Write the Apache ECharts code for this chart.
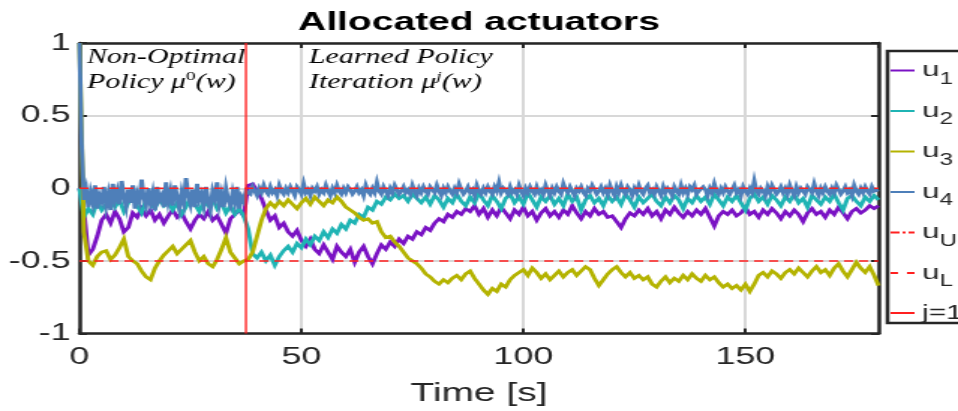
<!DOCTYPE html>
<html>
<head>
<meta charset="utf-8">
<title>Allocated actuators</title>
<script src="https://cdn.jsdelivr.net/npm/echarts@6.0.0/dist/echarts.min.js"></script>
<style>
  html, body { margin: 0; padding: 0; background: #fff; overflow: hidden; }
  #frame { width: 958px; height: 411px; overflow: hidden; }
  /* the figure is laid out narrow and stretched horizontally */
  #chart { width: 639px; height: 411px; transform: scaleX(1.4992); transform-origin: 0 0; }
</style>
</head>
<body>
<div id="frame"><div id="chart"></div></div>
<script>
// Sampling steps of the logged actuator commands [s]
const STEP = 1;
const STEP_U4 = 0.5;
const T_END = 180;
const SWITCH_TIME = 37.5;   // first policy update j = 1
const U_UPPER = 0;
const U_LOWER = -0.5;

const xTicks = [0, 50, 100, 150];
const yTicks = [-1, -0.5, 0, 0.5, 1];
const legendNames = ['u1', 'u2', 'u3', 'u4', 'uU', 'uL', 'j=1'];

// u1 (t = 0 ... 180 s, 1 s step)
const u1Values = [
  0.00,-0.15,-0.46,-0.42,-0.33,-0.22,-0.18,-0.24,-0.16,-0.21,
  -0.30,-0.27,-0.17,-0.20,-0.14,-0.19,-0.15,-0.22,-0.18,-0.24,
  -0.19,-0.15,-0.20,-0.17,-0.23,-0.28,-0.22,-0.18,-0.21,-0.16,
  -0.22,-0.19,-0.25,-0.31,-0.21,-0.18,-0.15,-0.19,0.02,0.03,
  -0.02,-0.07,-0.15,-0.22,-0.19,-0.27,-0.24,-0.30,-0.33,-0.29,
  -0.36,-0.40,-0.35,-0.42,-0.45,-0.39,-0.44,-0.49,-0.40,-0.44,
  -0.47,-0.42,-0.51,-0.44,-0.40,-0.47,-0.52,-0.45,-0.39,-0.42,
  -0.37,-0.40,-0.35,-0.38,-0.33,-0.35,-0.30,-0.32,-0.27,-0.29,
  -0.24,-0.21,-0.23,-0.18,-0.20,-0.16,-0.18,-0.14,-0.16,-0.12,
  -0.18,-0.14,-0.20,-0.15,-0.19,-0.13,-0.17,-0.21,-0.15,-0.18,
  -0.13,-0.19,-0.16,-0.22,-0.17,-0.14,-0.19,-0.16,-0.20,-0.15,
  -0.18,-0.12,-0.17,-0.21,-0.16,-0.19,-0.14,-0.18,-0.16,-0.20,
  -0.19,-0.23,-0.27,-0.21,-0.17,-0.19,-0.15,-0.18,-0.14,-0.19,
  -0.16,-0.21,-0.15,-0.18,-0.13,-0.17,-0.20,-0.16,-0.19,-0.15,
  -0.18,-0.14,-0.20,-0.26,-0.19,-0.16,-0.18,-0.15,-0.19,-0.17,
  -0.13,-0.18,-0.16,-0.20,-0.15,-0.18,-0.14,-0.17,-0.21,-0.16,
  -0.19,-0.15,-0.18,-0.23,-0.17,-0.14,-0.18,-0.16,-0.20,-0.15,
  -0.18,-0.13,-0.17,-0.21,-0.16,-0.14,-0.17,-0.15,-0.12,-0.14,
  -0.12
];

// u2 (1 s step)
const u2Values = [
  0.00,-0.20,-0.14,-0.18,-0.09,-0.15,-0.11,-0.06,-0.13,-0.08,
  -0.16,-0.10,-0.05,-0.12,-0.17,-0.08,-0.11,-0.14,-0.07,-0.12,
  -0.09,-0.15,-0.10,-0.18,-0.13,-0.06,-0.11,-0.16,-0.09,-0.12,
  -0.07,-0.14,-0.10,-0.17,-0.12,-0.18,-0.14,-0.19,-0.28,-0.45,
  -0.48,-0.44,-0.50,-0.46,-0.53,-0.47,-0.43,-0.40,-0.44,-0.38,
  -0.41,-0.35,-0.39,-0.33,-0.36,-0.30,-0.34,-0.28,-0.31,-0.25,
  -0.28,-0.22,-0.24,-0.18,-0.20,-0.13,-0.15,-0.09,-0.11,-0.06,
  -0.08,-0.04,-0.07,-0.05,-0.09,-0.04,-0.07,-0.10,-0.06,-0.11,
  -0.05,-0.08,-0.13,-0.07,-0.10,-0.04,-0.09,-0.12,-0.06,-0.10,
  -0.03,-0.08,-0.12,-0.05,-0.09,-0.14,-0.07,-0.04,-0.10,-0.06,
  -0.11,-0.03,-0.08,-0.13,-0.06,-0.09,-0.05,-0.11,-0.07,-0.12,
  -0.04,-0.09,-0.06,-0.15,-0.08,-0.05,-0.10,-0.07,-0.12,-0.05,
  -0.09,-0.06,-0.11,-0.04,-0.08,-0.13,-0.06,-0.10,-0.07,-0.04,
  -0.09,-0.12,-0.06,-0.10,-0.05,-0.08,-0.14,-0.07,-0.10,-0.05,
  -0.09,-0.06,-0.11,-0.04,-0.08,-0.12,-0.06,-0.09,-0.05,-0.10,
  -0.15,-0.07,-0.04,-0.09,-0.06,-0.11,-0.05,-0.08,-0.12,-0.06,
  -0.09,-0.04,-0.10,-0.07,-0.13,-0.05,-0.08,-0.11,-0.06,-0.09,
  -0.04,-0.10,-0.15,-0.07,-0.05,-0.09,-0.12,-0.06,-0.09,-0.05,
  -0.08
];

// u3 (1 s step)
const u3Values = [
  1.00,-0.30,-0.50,-0.53,-0.47,-0.44,-0.43,-0.49,-0.46,-0.41,
  -0.35,-0.47,-0.50,-0.52,-0.57,-0.61,-0.63,-0.55,-0.50,-0.46,
  -0.43,-0.40,-0.45,-0.42,-0.39,-0.36,-0.44,-0.50,-0.47,-0.52,
  -0.54,-0.49,-0.42,-0.34,-0.44,-0.48,-0.52,-0.50,-0.49,-0.44,
  -0.33,-0.22,-0.14,-0.10,-0.13,-0.09,-0.12,-0.08,-0.11,-0.14,
  -0.10,-0.07,-0.11,-0.06,-0.09,-0.12,-0.08,-0.10,-0.06,-0.09,
  -0.13,-0.15,-0.17,-0.20,-0.22,-0.21,-0.24,-0.23,-0.30,-0.34,
  -0.33,-0.37,-0.40,-0.44,-0.48,-0.50,-0.52,-0.55,-0.59,-0.61,
  -0.64,-0.66,-0.63,-0.65,-0.62,-0.60,-0.63,-0.59,-0.57,-0.62,
  -0.66,-0.70,-0.73,-0.69,-0.71,-0.66,-0.68,-0.63,-0.60,-0.58,
  -0.56,-0.60,-0.55,-0.58,-0.62,-0.59,-0.63,-0.60,-0.57,-0.61,
  -0.58,-0.56,-0.60,-0.57,-0.54,-0.56,-0.62,-0.67,-0.63,-0.59,
  -0.56,-0.54,-0.58,-0.61,-0.58,-0.62,-0.60,-0.63,-0.61,-0.66,
  -0.68,-0.64,-0.61,-0.65,-0.62,-0.64,-0.60,-0.63,-0.59,-0.62,
  -0.64,-0.60,-0.63,-0.61,-0.65,-0.68,-0.66,-0.69,-0.67,-0.70,
  -0.66,-0.71,-0.66,-0.60,-0.58,-0.61,-0.57,-0.59,-0.62,-0.58,
  -0.56,-0.59,-0.55,-0.58,-0.61,-0.57,-0.54,-0.58,-0.56,-0.60,
  -0.55,-0.52,-0.57,-0.61,-0.56,-0.51,-0.55,-0.58,-0.54,-0.60,
  -0.67
];

// u4 (0.5 s step)
const u4Values = [
  1.00,0.30,-0.08,
  -0.01,-0.13,-0.03,-0.10,0.02,-0.14,-0.05,-0.09,0.01,-0.12,
  -0.04,-0.15,0.03,-0.08,-0.02,-0.11,0.05,-0.06,-0.13,-0.01,
  -0.10,0.02,-0.14,-0.04,-0.09,0.06,-0.07,-0.12,0.00,-0.10,
  -0.03,-0.15,0.01,-0.08,-0.05,-0.13,0.04,-0.09,-0.02,-0.12,
  0.02,-0.06,-0.14,-0.03,-0.10,0.07,-0.05,-0.11,-0.01,-0.13,
  0.03,-0.08,-0.04,-0.12,0.01,-0.09,-0.15,-0.02,-0.07,0.04,
  -0.11,-0.04,-0.13,0.00,-0.08,-0.12,-0.03,-0.10,0.01,-0.14,
  -0.06,-0.09,-0.02,
  -0.01,-0.04,0.01,-0.02,-0.05,0.00,-0.03,0.02,-0.02,-0.04,
  0.01,-0.03,-0.01,-0.05,0.02,-0.02,-0.04,0.00,-0.03,0.01,
  -0.02,-0.05,0.01,-0.01,-0.04,0.03,-0.03,-0.01,-0.05,0.00,
  -0.02,0.01,-0.04,-0.01,-0.03,0.02,-0.02,-0.05,0.00,-0.03,
  0.02,-0.02,-0.04,0.00,-0.03,0.01,-0.01,-0.04,-0.02,0.01,
  -0.03,-0.01,-0.05,0.02,-0.02,-0.04,0.00,-0.03,0.04,-0.02,
  -0.04,0.01,-0.02,-0.05,0.00,-0.03,0.02,-0.01,-0.04,-0.02,
  0.01,-0.03,-0.01,-0.04,0.02,-0.02,-0.05,0.00,-0.03,0.01,
  -0.02,-0.04,0.01,-0.01,-0.03,0.02,-0.02,-0.05,0.00,-0.03,
  0.01,-0.02,-0.04,0.00,-0.03,0.03,-0.01,-0.04,-0.02,0.01,
  -0.03,-0.01,-0.05,0.02,-0.02,-0.04,0.00,-0.03,0.01,-0.02,
  -0.04,0.01,-0.02,0.04,-0.03,0.00,-0.02,-0.04,0.01,-0.03,
  -0.01,-0.04,0.02,-0.02,-0.05,0.00,-0.03,0.01,-0.02,-0.04,
  0.01,-0.03,-0.01,-0.04,0.02,-0.02,-0.05,0.00,-0.03,0.01,
  -0.02,-0.04,0.03,-0.01,-0.03,0.01,-0.02,-0.05,0.00,-0.02,
  0.01,-0.03,-0.05,0.00,-0.02,0.02,-0.01,-0.04,-0.02,0.01,
  -0.03,0.00,-0.04,0.02,-0.02,-0.05,0.01,-0.03,0.02,-0.02,
  -0.04,0.01,-0.01,-0.05,0.00,-0.03,0.02,-0.02,-0.04,0.00,
  0.02,-0.03,-0.01,-0.04,0.01,-0.02,-0.05,0.01,-0.03,0.00,
  -0.02,-0.05,0.01,-0.02,-0.04,0.02,-0.03,0.00,-0.04,0.01,
  -0.01,0.02,-0.04,-0.02,-0.03,0.01,-0.01,-0.05,0.00,-0.03,
  0.03,-0.02,-0.04,0.00,-0.03,0.01,-0.02,-0.04,-0.01,0.02,
  -0.03,-0.01,-0.05,0.01,-0.02,-0.04,0.00,-0.03,0.05,-0.02,
  -0.04,0.00,-0.02,-0.05,0.01,-0.03,0.02,-0.01,-0.04,-0.02,
  0.01,-0.03,0.00,-0.04,0.02,-0.02,-0.05,0.01,-0.03,0.00,
  -0.02,-0.04,0.01,-0.01,-0.03,0.03,-0.02,-0.05,0.00,-0.03,
  0.01,-0.02,-0.04,0.00,-0.03,0.02,-0.01,-0.04,-0.02,0.01,
  -0.03,-0.01,-0.05,0.02,-0.02,-0.04,0.00,-0.03,0.01,-0.02,
  -0.04,0.01,-0.02,-0.03,-0.01
];

const SANS = "'Liberation Sans', Arial, Helvetica, sans-serif";
const SERIF = "'Liberation Serif', 'Times New Roman', serif";
const INK = '#262626';
const RED = '#ff2020';
const COLORS = {
  u1: '#7a12c4',
  u2: '#1fb4b4',
  u3: '#b4b300',
  u4: '#4e7fb9'
};

const toTimeSeries = (vals, step) => vals.map((v, i) => [i * step, v]);

const ICONS = {
  u1: 'path://M0,0H16V2H0Z',
  u2: 'path://M0,0H16V2H0Z',
  u3: 'path://M0,0H16V2H0Z',
  u4: 'path://M0,0H16V2H0Z',
  uU: 'path://M0,0H6V2H0Z M8,0H10V2H8Z M12,0H16V2H12Z',
  uL: 'path://M0,0H5V2H0Z M11,0H16V2H11Z',
  'j=1': 'path://M0,0H16V2H0Z'
};

function actuatorSeries(name, vals, step) {
  return {
    type: 'line', name, data: toTimeSeries(vals, step),
    smooth: false, showSymbol: false, symbol: 'none', animation: false,
    lineStyle: { color: COLORS[name], width: 2.9, join: 'miter' },
    itemStyle: { color: COLORS[name] }
  };
}

function refSeries(name, data, width, type) {
  return {
    type: 'line', name, data, smooth: false, showSymbol: false, symbol: 'none', animation: false,
    lineStyle: { color: RED, width, type },
    itemStyle: { color: RED }
  };
}

const axisLineStyle = { show: true, onZero: false, lineStyle: { color: INK, width: 2.5 } };
const tickStyle = { show: true, inside: true, length: 5, lineStyle: { color: INK, width: 2 } };
const gridLine = { show: true, lineStyle: { color: '#d8d8d8', width: 2 } };

const annotationRich = {
  i: { fontFamily: SERIF, fontStyle: 'italic', fontSize: 20, lineHeight: 24.5, color: '#111' },
  p: { fontFamily: SERIF, fontSize: 13, lineHeight: 17, verticalAlign: 'top', color: '#111' },
  q: { fontFamily: SERIF, fontStyle: 'italic', fontSize: 13, lineHeight: 17, verticalAlign: 'top', color: '#111' }
};

const chart = echarts.init(document.getElementById('chart'), null, { renderer: 'canvas' });

chart.setOption({
  backgroundColor: '#fff',
  animation: false,
  title: {
    text: 'Allocated actuators', left: 'center', top: 10, padding: 0,
    textStyle: { fontFamily: SANS, fontWeight: 'bold', fontSize: 26, color: '#000' }
  },
  grid: { left: 53, right: 53, top: 43, bottom: 77.5, outerBoundsMode: 'none' },
  xAxis: [
    {
      type: 'value', min: 0, max: T_END, interval: xTicks[1] - xTicks[0], position: 'bottom',
      name: 'Time [s]', nameLocation: 'middle', nameGap: 47,
      nameTextStyle: { fontFamily: SANS, fontSize: 26, color: INK },
      axisLine: axisLineStyle, axisTick: tickStyle,
      axisLabel: { fontFamily: SANS, fontSize: 24, color: INK, margin: 12, showMaxLabel: false },
      splitLine: gridLine
    },
    {
      type: 'value', min: 0, max: T_END, interval: xTicks[1] - xTicks[0], position: 'top',
      axisLine: axisLineStyle, axisTick: tickStyle,
      axisLabel: { show: false }, splitLine: { show: false }
    }
  ],
  yAxis: [
    {
      type: 'value', min: yTicks[0], max: yTicks[yTicks.length - 1], interval: yTicks[1] - yTicks[0],
      position: 'left',
      axisLine: axisLineStyle, axisTick: tickStyle,
      axisLabel: { fontFamily: SANS, fontSize: 24, color: INK, margin: 6 },
      splitLine: gridLine
    },
    {
      type: 'value', min: yTicks[0], max: yTicks[yTicks.length - 1], interval: yTicks[1] - yTicks[0],
      position: 'right',
      axisLine: axisLineStyle, axisTick: tickStyle,
      axisLabel: { show: false }, splitLine: { show: false }
    }
  ],
  legend: {
    orient: 'vertical', left: 592, top: 51,
    padding: [9, 70, 0, 2], itemGap: 13, itemWidth: 16, itemHeight: 2, itemTextGap: 3,
    borderColor: INK, borderWidth: 2.5, borderRadius: 0, backgroundColor: '#fff',
    selectedMode: false,
    data: legendNames.map(n => ({ name: n, icon: ICONS[n] })),
    formatter: name => name === 'j=1' ? '{j|j=1}' : '{u|u}{s|' + name.slice(1) + '}',
    textStyle: {
      fontFamily: SANS, color: INK,
      rich: {
        u: { fontFamily: SANS, fontSize: 21, lineHeight: 34, color: INK },
        s: { fontFamily: SANS, fontSize: 16, lineHeight: 12, verticalAlign: 'bottom', color: INK },
        j: { fontFamily: SANS, fontSize: 20, lineHeight: 28, color: INK }
      }
    }
  },
  graphic: [
    {
      type: 'text', left: 58, top: 48, z: 100,
      style: { text: '{i|Non-Optimal}\n{i|Policy μ}{p|0}{i|(w)}', rich: annotationRich }
    },
    {
      type: 'text', left: 206, top: 48, z: 100,
      style: { text: '{i|Learned Policy}\n{i|Iteration μ}{q|j}{i|(w)}', rich: annotationRich }
    }
  ],
  series: [
    actuatorSeries('u1', u1Values, STEP),
    actuatorSeries('u2', u2Values, STEP),
    actuatorSeries('u3', u3Values, STEP),
    actuatorSeries('u4', u4Values, STEP_U4),
    refSeries('uU', [[0, U_UPPER], [T_END, U_UPPER]], 1.5, [6, 4]),
    refSeries('uL', [[0, U_LOWER], [T_END, U_LOWER]], 1.5, [6, 4]),
    refSeries('j=1', [[SWITCH_TIME, yTicks[0]], [SWITCH_TIME, yTicks[yTicks.length - 1]]], 1.35, 'solid')
  ]
});
</script>
</body>
</html>
